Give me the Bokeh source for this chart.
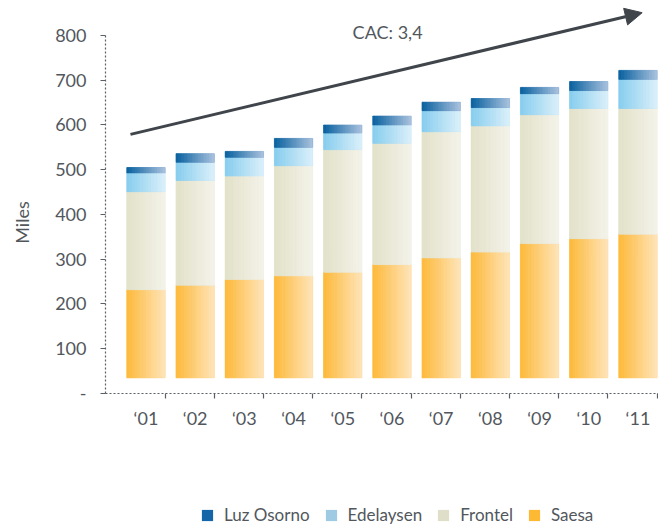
import numpy as np
from bokeh.plotting import figure
from bokeh.models import FixedTicker, Arrow, NormalHead, Label, Legend, LegendItem
from bokeh.embed import file_html
from bokeh.resources import INLINE

# ---------------- data ----------------
YEARS = ["\u201801", "\u201802", "\u201803", "\u201804", "\u201805", "\u201806",
         "\u201807", "\u201808", "\u201809", "\u201810", "\u201811"]
SAESA = [232, 242, 255, 263, 271, 288, 303, 316, 335, 346, 356]
FRONTEL = [219, 234, 231, 246, 274, 271, 282, 282, 288, 291, 281]
EDELAYSEN = [42, 41, 42, 41, 37, 41, 47, 41, 47, 40, 65]
LUZ_OSORNO = [12, 19, 13, 20, 18, 20, 19, 20, 14, 20, 20]
SERIES_NAMES = ["Saesa", "Frontel", "Edelaysen", "Luz Osorno"]
Y_TICKS = [0, 100, 200, 300, 400, 500, 600, 700, 800]
Y_TICK_LABELS = ["-", "100", "200", "300", "400", "500", "600", "700", "800"]
Y_TITLE = "Miles"
CAC_TEXT = "CAC: 3,4"
BAR_FLOOR = 35  # visual floor of the bars in the original

# ---------------- style ----------------
FONT = "Lato"
TXT = "#52575d"
AX = "#5a5f66"
DARK = "#3f454b"
BAR_W = 0.78
GRAD = {
    "Saesa": ("#fdb93a", "#fee5bb"),
    "Frontel": ("#e2e1c9", "#f4f3ea"),
    "Edelaysen": ("#86cdee", "#dbf0fa"),
    "Luz Osorno": ("#07619f", "#abc2de"),
}
FLAT = {
    "Saesa": "#fdb933",
    "Frontel": "#dfdfc9",
    "Edelaysen": "#9ecae3",
    "Luz Osorno": "#1565a9",
}

xs = np.arange(1, len(YEARS) + 1, dtype=float)
X_MIN, X_MAX = 0.177, 11.417          # extent of the plotted category axis
Y_MAX = max(Y_TICKS)

p = figure(width=658, height=531, x_range=(-1.957, 11.417), y_range=(-308.4, 878.2),
           output_backend="svg", toolbar_location=None,
           min_border_left=0, min_border_right=0, min_border_top=0,
           min_border_bottom=0)
p.outline_line_color = None
p.xgrid.visible = False
p.ygrid.visible = False
p.background_fill_color = "white"


def hex2rgb(h):
    h = h.lstrip("#")
    return np.array([int(h[i:i + 2], 16) for i in (0, 2, 4)], dtype=float)


def lerp(c1, c2, t):
    a, b = hex2rgb(c1), hex2rgb(c2)
    c = a + (b - a) * t
    return "#%02x%02x%02x" % tuple(int(round(v)) for v in c)


values = {"Saesa": SAESA, "Frontel": FRONTEL, "Edelaysen": EDELAYSEN,
          "Luz Osorno": LUZ_OSORNO}

base = np.full(len(xs), float(BAR_FLOOR))
legend_renderers = {}
N = 14
for name in SERIES_NAMES:
    vals = np.array(values[name], dtype=float)
    bottom = base.copy()
    top = vals.copy() if name == "Saesa" else base + vals
    base = top.copy()
    r = p.vbar(x=xs, width=BAR_W, bottom=bottom, top=top,
               fill_color=FLAT[name], line_color=None)
    legend_renderers[name] = r
    c1, c2 = GRAD[name]
    for k in range(N):
        t = (k + 0.5) / N
        col = lerp(c1, c2, t)
        off = (k + 0.5 - N / 2) * BAR_W / N
        p.vbar(x=xs + off, width=BAR_W / N, bottom=bottom, top=top,
               fill_color=col, line_color=col, line_width=0.7)

# ---------------- axes ----------------
yax = p.yaxis[0]
yax.fixed_location = X_MIN
yax.ticker = FixedTicker(ticks=Y_TICKS, minor_ticks=[])
yax.major_label_overrides = {t: l for t, l in zip(Y_TICKS, Y_TICK_LABELS)}
yax.bounds = (0, Y_MAX)
yax.axis_line_color = AX
yax.axis_line_dash = "2 2"
yax.axis_line_width = 1.2
yax.major_tick_out = 5
yax.major_tick_in = 0
yax.major_tick_line_color = AX
yax.major_tick_line_width = 1.2
yax.minor_tick_line_color = None
yax.major_label_text_font = FONT
yax.major_label_text_font_size = "18px"
yax.major_label_text_color = TXT
yax.major_label_standoff = 14

xax = p.xaxis[0]
xax.fixed_location = 0
xax.bounds = (X_MIN, X_MAX)
xax.ticker = FixedTicker(ticks=list(xs), minor_ticks=list(xs + BAR_W / 2))
xax.major_label_overrides = {float(x): l for x, l in zip(xs, YEARS)}
xax.axis_line_color = AX
xax.axis_line_dash = "2 2"
xax.axis_line_width = 1.2
xax.major_tick_out = 0
xax.major_tick_in = 0
xax.major_tick_line_color = None
xax.minor_tick_out = 5
xax.minor_tick_in = 0
xax.minor_tick_line_color = AX
xax.minor_tick_line_width = 1.2
xax.major_label_text_font = FONT
xax.major_label_text_font_size = "18px"
xax.major_label_text_color = TXT
xax.major_label_standoff = 9

# y-axis title
p.add_layout(Label(x=-1.51, y=382, text=Y_TITLE, angle=np.pi / 2,
                   text_font=FONT, text_font_size="18px", text_color=TXT,
                   text_align="center", text_baseline="middle"))

# ---------------- trend arrow + label ----------------
TREND_START = (0.685, 579)
TREND_END = (11.085, 851)
p.add_layout(Arrow(end=NormalHead(size=17, fill_color=DARK, line_color=DARK),
                   x_start=TREND_START[0], y_start=TREND_START[1],
                   x_end=TREND_END[0], y_end=TREND_END[1],
                   line_color=DARK, line_width=3))
p.add_layout(Label(x=5.2, y=807, text=CAC_TEXT, text_font=FONT,
                   text_font_size="18px", text_color=TXT,
                   text_baseline="middle", text_align="left"))

# ---------------- legend ----------------
items = [LegendItem(label=n, renderers=[legend_renderers[n]])
         for n in ["Luz Osorno", "Edelaysen", "Frontel", "Saesa"]]
legend = Legend(items=items, orientation="horizontal", location=(200, 6),
                border_line_color=None, background_fill_alpha=0,
                glyph_width=14, glyph_height=14, label_standoff=10,
                spacing=14, padding=0, margin=0,
                label_text_font=FONT, label_text_font_size="17px",
                label_text_color=TXT)
p.add_layout(legend, "center")

open("out.html", "w").write(file_html(p, INLINE))
